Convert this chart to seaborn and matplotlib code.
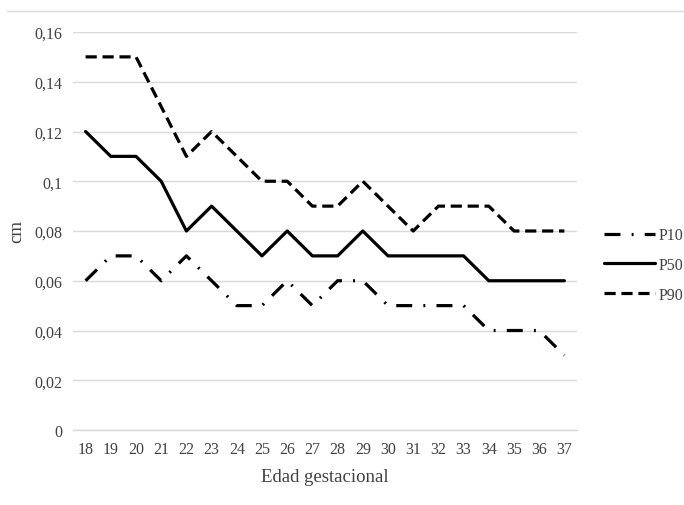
import matplotlib
matplotlib.use("Agg")
import matplotlib.pyplot as plt
import seaborn as sns
import pandas as pd
from matplotlib.ticker import FuncFormatter
from matplotlib.lines import Line2D

weeks = [18, 19, 20, 21, 22, 23, 24, 25, 26, 27, 28, 29, 30, 31, 32, 33, 34, 35, 36, 37]
p10 = [0.06, 0.07, 0.07, 0.06, 0.07, 0.06, 0.05, 0.05, 0.06, 0.05, 0.06, 0.06, 0.05, 0.05, 0.05, 0.05, 0.04, 0.04, 0.04, 0.03]
p50 = [0.12, 0.11, 0.11, 0.10, 0.08, 0.09, 0.08, 0.07, 0.08, 0.07, 0.07, 0.08, 0.07, 0.07, 0.07, 0.07, 0.06, 0.06, 0.06, 0.06]
p90 = [0.15, 0.15, 0.15, 0.13, 0.11, 0.12, 0.11, 0.10, 0.10, 0.09, 0.09, 0.10, 0.09, 0.08, 0.09, 0.09, 0.09, 0.08, 0.08, 0.08]
series_names = ["P10", "P50", "P90"]
y_ticks = [0, 0.02, 0.04, 0.06, 0.08, 0.10, 0.12, 0.14, 0.16]

sns.set_theme(style="white")
plt.rcParams["font.family"] = ["Liberation Serif", "DejaVu Serif"]

pos = list(range(len(weeks)))
df = pd.DataFrame({
    "pos": pos * 3,
    "val": p10 + p50 + p90,
    "serie": [series_names[0]] * len(pos) + [series_names[1]] * len(pos) + [series_names[2]] * len(pos),
})

fig = plt.figure(figsize=(6.84, 5.06), dpi=100)
ax = fig.add_axes([73 / 684, 1 - 431 / 506, (577 - 73) / 684, (431 - 33) / 506])

styles = {
    "P10": (0, (5, 3.5, 0.6, 3.5)),
    "P50": "-",
    "P90": (0, (3.5, 1.8)),
}
lw = 2.3
for name in series_names:
    sub = df[df["serie"] == name]
    sns.lineplot(data=sub, x="pos", y="val", ax=ax, color="black", linewidth=lw,
                 linestyle=styles[name], legend=False)

ax.set_xlim(-0.5, len(weeks) - 0.5)
ax.set_ylim(0, 0.16)
ax.set_yticks(y_ticks)
ax.set_xticks(pos)
ax.set_xticklabels([str(w) for w in weeks])

def fmt(v, _):
    s = f"{v:.2f}".rstrip("0").rstrip(".")
    return s.replace(".", ",")
ax.yaxis.set_major_formatter(FuncFormatter(fmt))

ax.grid(axis="y", color="#d9d9d9", linewidth=1)
ax.grid(axis="x", visible=False)
for s in ["top", "right", "left"]:
    ax.spines[s].set_visible(False)
ax.spines["bottom"].set_color("#d9d9d9")
ax.spines["bottom"].set_linewidth(1)
ax.tick_params(axis="both", length=0, labelsize=11.5, colors="#404040", pad=8)
ax.set_xlabel("Edad gestacional", fontsize=13.5, color="#404040", labelpad=8)
ax.set_ylabel("cm", fontsize=13.5, color="#404040", labelpad=6)

# chart area top border line
fig.add_artist(Line2D([7 / 684, 1], [1 - 12 / 506, 1 - 12 / 506], color="#d9d9d9", linewidth=1))

handles = [Line2D([], [], color="black", linewidth=lw, linestyle=styles[n]) for n in series_names]
fig.legend(handles, series_names, loc="center left", bbox_to_anchor=(590 / 684, 1 - 266 / 506),
           frameon=False, fontsize=11.5, handlelength=3.2, handletextpad=0.2, labelspacing=0.85,
           labelcolor="#404040")

fig.savefig("out.png", dpi=100)
